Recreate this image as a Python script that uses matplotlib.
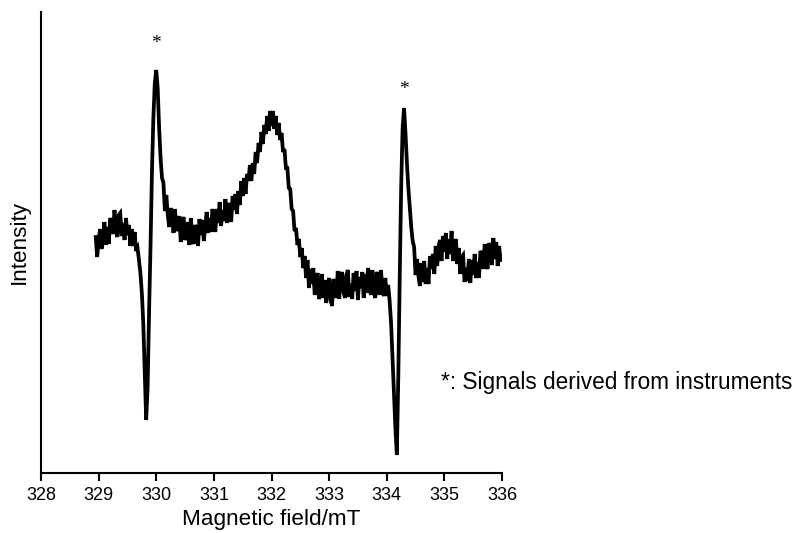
import numpy as np
import matplotlib
matplotlib.use("Agg")
import matplotlib.pyplot as plt

plt.rcParams['font.family'] = ['Liberation Sans', 'DejaVu Sans']

# Spectrum, 0.025 mT steps starting at 328.95 mT
# (intensity in arbitrary units)
field_start = 328.95
field_step = 0.025
intensity = [
    # 328.950 - 329.925
    236, 216, 232, 244, 224, 233, 251, 228, 246, 229,
    255, 247, 239, 263, 243, 236, 258, 260, 237, 250,
    233, 255, 238, 248, 227, 244, 227, 241, 222, 225,
    213, 200, 180, 150, 100, 53, 85, 160, 225, 300,
    # 329.950 - 330.925
    355, 390, 403, 385, 345, 315, 295, 290, 262, 278,
    258, 246, 265, 256, 240, 264, 242, 246, 257, 231,
    250, 256, 233, 238, 251, 228, 255, 234, 229, 248,
    244, 227, 254, 238, 253, 232, 247, 261, 240, 255,
    # 330.950 - 331.925
    241, 264, 255, 241, 264, 250, 271, 247, 263, 252,
    274, 250, 270, 265, 251, 277, 263, 279, 259, 282,
    268, 292, 277, 295, 279, 299, 292, 308, 292, 310,
    299, 321, 310, 330, 321, 341, 329, 348, 339, 357,
    # 331.950 - 332.925
    342, 362, 347, 362, 344, 357, 338, 350, 333, 340,
    321, 324, 305, 305, 285, 284, 264, 262, 242, 245,
    228, 234, 216, 225, 205, 217, 195, 213, 185, 204,
    189, 205, 178, 191, 200, 174, 179, 199, 175, 193,
    # 332.950 - 333.925
    170, 187, 195, 173, 167, 194, 187, 175, 202, 174,
    195, 201, 181, 175, 198, 203, 176, 189, 174, 200,
    182, 202, 173, 196, 185, 201, 175, 199, 180, 205,
    191, 178, 203, 182, 175, 201, 196, 178, 203, 182,
    # 333.950 - 334.925
    177, 195, 177, 188, 172, 150, 115, 80, 45, 18,
    95, 195, 285, 345, 365, 340, 310, 285, 265, 246,
    232, 226, 198, 214, 197, 187, 210, 191, 212, 189,
    205, 189, 217, 204, 219, 199, 227, 207, 227, 233,
    # 334.950 - 336.000
    212, 237, 221, 240, 214, 234, 219, 242, 212, 226,
    234, 209, 225, 199, 216, 218, 191, 205, 192, 214,
    190, 213, 198, 219, 195, 211, 195, 222, 219, 204,
    229, 209, 204, 230, 223, 208, 235, 214, 231, 207,
    227, 213, 213,
]
field = field_start + field_step * np.arange(len(intensity))

# positions of the instrument marker asterisks
marker_fields = [330.0, 334.3]
marker_heights = [429, 383]

fig = plt.figure(figsize=(7.97, 5.33), dpi=100)
ax = fig.add_axes([41 / 797, 60 / 533, 461 / 797, 461 / 533])

ax.plot(field, intensity, color='black', linewidth=2.7, solid_joinstyle='miter')

for xm, ym in zip(marker_fields, marker_heights):
    ax.text(xm, ym, '*', fontsize=14, family=['Liberation Serif'],
            ha='center', va='center')

ax.text(441 / 797, (533 - 383) / 533, '*: Signals derived from instruments',
        transform=fig.transFigure, fontsize=16.3, ha='left', va='center')

ax.set_xlim(328, 336)
ax.set_ylim(0, 461)
ax.set_xticks(np.arange(328, 337, 1))
ax.set_yticks([])
ax.tick_params(axis='x', direction='out', length=6, width=1.5, labelsize=13, pad=4)
for side in ['top', 'right']:
    ax.spines[side].set_visible(False)
ax.spines['left'].set_linewidth(1.5)
ax.spines['bottom'].set_linewidth(1.5)

ax.set_xlabel('Magnetic field/mT', fontsize=16.2, labelpad=4)
ax.set_ylabel('Intensity', fontsize=16.2, labelpad=8)

fig.savefig('out.png', dpi=100)
